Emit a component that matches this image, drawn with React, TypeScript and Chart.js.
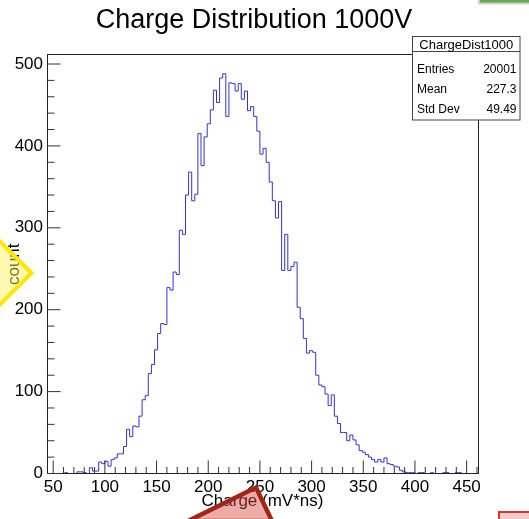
import { useEffect, useRef } from "react";
import { Chart, registerables } from "chart.js";

Chart.register(...registerables);

// Histogram binning (mV*ns)
const BIN_START = 46;
const BIN_WIDTH = 3;

// Bin contents, one per bin starting at BIN_START
const counts = [
  0, 0, 0, 0, 0, 1, 0, 0, 0, 2,
  2, 1, 0, 7, 3, 3, 14, 12, 15, 9,
  17, 19, 24, 24, 33, 54, 45, 58, 57, 70,
  90, 95, 122, 133, 151, 171, 183, 182, 227, 224,
  246, 243, 297, 292, 340, 368, 333, 341, 415, 376,
  411, 427, 444, 468, 453, 483, 488, 436, 477, 476,
  467, 476, 457, 467, 443, 448, 436, 418, 390, 397,
  380, 356, 333, 312, 332, 248, 292, 248, 253, 258,
  203, 189, 165, 147, 150, 148, 120, 108, 106, 97,
  83, 96, 70, 61, 50, 50, 40, 47, 41, 35,
  28, 26, 23, 20, 17, 14, 17, 14, 19, 12,
  11, 9, 8, 4, 2, 1, 1, 1, 0, 1,
  1, 0, 0, 1, 0, 0, 0, 1, 1, 0,
  0, 1, 1, 0, 0, 0, 0, 0,
];

// Axis ranges and tick labels
const X_MIN = 44;
const X_MAX = 461;
const Y_MIN = 0;
const Y_MAX = 511;
const xTicks = [50, 100, 150, 200, 250, 300, 350, 400, 450];
const yTicks = [0, 100, 200, 300, 400, 500];
const X_MINOR_STEP = 10;
const Y_MINOR_STEP = 20;

// Text
const TITLE = "Charge Distribution 1000V";
const X_TITLE = "Charge (mV*ns)";
const Y_TITLE = "count";
const STATS_NAME = "ChargeDist1000";
const statsLabels = ["Entries", "Mean", "Std Dev"];
const statsValues = ["20001", "227.3", "49.49"];

const FONT = "'Liberation Sans', Arial, Helvetica, sans-serif";
const HIST_COLOR = "#3434cc";
const AXIS_COLOR = "#222222";

const rootStyle = {
  id: "rootStyle",
  afterDraw(chart: Chart) {
    const { ctx, chartArea: a } = chart;
    const x = chart.scales.x;
    const y = chart.scales.y;
    ctx.save();

    // frame
    ctx.strokeStyle = AXIS_COLOR;
    ctx.lineWidth = 1;
    const top = a.top - 0.5;
    ctx.strokeRect(a.left + 0.5, top, a.right - a.left, a.bottom - top);

    // x ticks (inward, from the bottom edge)
    ctx.strokeStyle = "#333333";
    ctx.beginPath();
    for (const major of xTicks) {
      for (let k = 0; k < 50 / X_MINOR_STEP; k++) {
        const v = major + k * X_MINOR_STEP;
        if (v > X_MAX) break;
        const px = x.getPixelForValue(v);
        const len = k === 0 ? 13 : 6.5;
        ctx.moveTo(px, a.bottom);
        ctx.lineTo(px, a.bottom - len);
      }
    }
    // y ticks (inward, from the left edge)
    for (const major of yTicks) {
      for (let k = 0; k < 100 / Y_MINOR_STEP; k++) {
        const v = major + k * Y_MINOR_STEP;
        if (v > Y_MAX) break;
        const py = y.getPixelForValue(v);
        const len = k === 0 ? 13 : 7;
        ctx.moveTo(a.left + 0.5, py);
        ctx.lineTo(a.left + 0.5 + len, py);
      }
    }
    ctx.stroke();

    // tick labels
    ctx.fillStyle = "#000000";
    ctx.font = `17px ${FONT}`;
    ctx.textAlign = "center";
    ctx.textBaseline = "alphabetic";
    for (const v of xTicks) {
      ctx.fillText(String(v), x.getPixelForValue(v), 491.5);
    }
    ctx.textAlign = "right";
    ctx.textBaseline = "middle";
    for (const v of yTicks) {
      ctx.fillText(String(v), 43, y.getPixelForValue(v));
    }

    // axis titles
    ctx.textBaseline = "alphabetic";
    ctx.textAlign = "center";
    ctx.fillText(X_TITLE, (a.left + a.right) / 2, 505.5);
    ctx.save();
    ctx.translate(18.5, (a.top + a.bottom) / 2);
    ctx.rotate(-Math.PI / 2);
    ctx.fillText(Y_TITLE, 0, 0);
    ctx.restore();

    // main title
    ctx.font = `27px ${FONT}`;
    ctx.fillText(TITLE, 254, 28);

    // statistics box
    const bx = 412.5, by = 36.5, bw = 107.5, bh = 83.5;
    ctx.fillStyle = "#ffffff";
    ctx.fillRect(bx, by, bw, bh);
    ctx.strokeStyle = "#444444";
    ctx.strokeRect(bx, by, bw, bh);
    ctx.beginPath();
    ctx.moveTo(bx, 51.5);
    ctx.lineTo(bx + bw, 51.5);
    ctx.stroke();
    ctx.fillStyle = "#000000";
    ctx.font = `13px ${FONT}`;
    ctx.textAlign = "center";
    ctx.fillText(STATS_NAME, bx + bw / 2, 48.5);
    ctx.font = `12px ${FONT}`;
    const rowBase = [72.8, 93.3, 113.3];
    statsLabels.forEach((label, i) => {
      ctx.textAlign = "left";
      ctx.fillText(label, 417, rowBase[i]);
      ctx.textAlign = "right";
      ctx.fillText(statsValues[i], 516.5, rowBase[i]);
    });

    // overlay shapes
    // green bar, top right
    ctx.fillStyle = "#6aa84f";
    ctx.strokeStyle = "#cfcfcf";
    ctx.lineWidth = 2;
    ctx.fillRect(479, -10, 60, 13.5);
    ctx.strokeRect(479, -10, 60, 13.5);

    // yellow diamond, left edge
    ctx.beginPath();
    ctx.moveTo(31.5, 273);
    ctx.lineTo(0, 241.5);
    ctx.lineTo(-31.5, 273);
    ctx.lineTo(0, 304.5);
    ctx.closePath();
    ctx.fillStyle = "rgba(255, 240, 80, 0.45)";
    ctx.fill();
    ctx.strokeStyle = "#ffe600";
    ctx.lineWidth = 4;
    ctx.stroke();

    // red triangle, bottom
    ctx.beginPath();
    ctx.moveTo(256, 487.5);
    ctx.lineTo(272, 521);
    ctx.lineTo(188, 521);
    ctx.closePath();
    ctx.fillStyle = "rgba(215, 70, 60, 0.45)";
    ctx.fill();
    ctx.strokeStyle = "#a0261a";
    ctx.lineWidth = 4.5;
    ctx.stroke();

    // red box, bottom right
    ctx.fillStyle = "rgba(235, 140, 140, 0.45)";
    ctx.fillRect(499, 512, 40, 20);
    ctx.strokeStyle = "#d03a2c";
    ctx.lineWidth = 2;
    ctx.strokeRect(499, 512, 40, 20);

    ctx.restore();
  },
};

export default function App() {
  const ref = useRef<HTMLCanvasElement>(null);

  useEffect(() => {
    document.body.style.margin = "0";
    const canvas = ref.current;
    if (!canvas) return;

    // step outline: each point opens a bin, the last one closes it
    const points = counts.map((c, i) => ({ x: BIN_START + i * BIN_WIDTH, y: c }));
    points.push({ x: BIN_START + counts.length * BIN_WIDTH, y: counts[counts.length - 1] });

    const chart = new Chart(canvas, {
      type: "line",
      data: {
        datasets: [
          {
            data: points,
            stepped: "before",
            borderColor: HIST_COLOR,
            borderWidth: 1,
            pointRadius: 0,
            fill: false,
            tension: 0,
          },
        ],
      },
      options: {
        animation: false,
        responsive: false,
        devicePixelRatio: 1,
        layout: { padding: { left: 47, right: 51, top: 55, bottom: 45.5 } },
        plugins: {
          legend: { display: false },
          tooltip: { enabled: false },
          title: { display: false },
        },
        scales: {
          x: { type: "linear", min: X_MIN, max: X_MAX, display: false },
          y: { type: "linear", min: Y_MIN, max: Y_MAX, display: false },
        },
      },
      plugins: [rootStyle],
    });

    return () => chart.destroy();
  }, []);

  return <canvas ref={ref} width={529} height={519} style={{ display: "block" }} />;
}
